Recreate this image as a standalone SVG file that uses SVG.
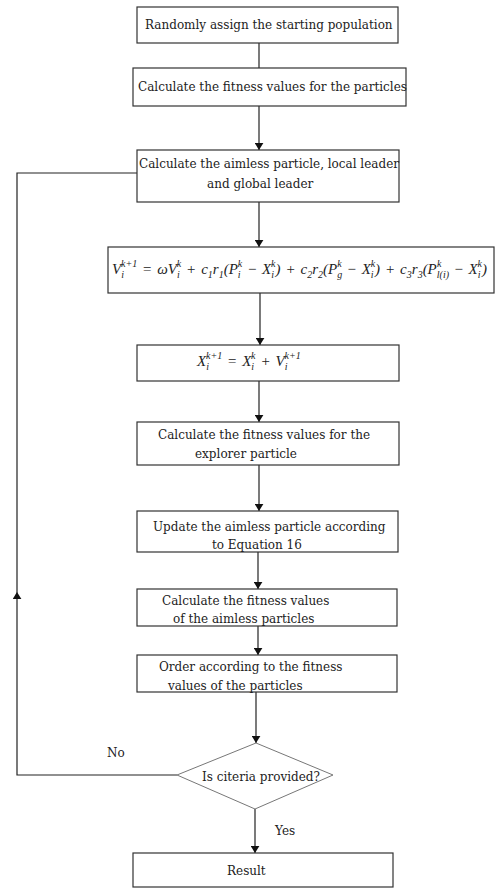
<svg xmlns="http://www.w3.org/2000/svg" width="496" height="888" viewBox="0 0 496 888">
<style>
.box{fill:#fff;stroke:#333;stroke-width:1.2}
.dia{fill:#fff;stroke:#777;stroke-width:1}
.t{font-family:"DejaVu Serif","Liberation Serif",serif;font-size:12px;fill:#222}
.m{font-family:"Liberation Serif","DejaVu Serif",serif;font-style:italic;font-size:15px;fill:#222;word-spacing:1.2px}
.s{font-size:10px}
.ln{fill:none;stroke:#222;stroke-width:1.2}
</style>
<defs>
<marker id="ah" viewBox="0 0 8 10" refX="8" refY="5" markerWidth="7" markerHeight="9" markerUnits="userSpaceOnUse" orient="auto">
<path d="M0,0 L8,5 L0,10 Z" fill="#111"/>
</marker>
</defs>
<rect width="496" height="888" fill="#fff"/>
<g id="connectors">
<path class="ln" d="M259,43 V68"/>
<path class="ln" d="M259,106 V150" marker-end="url(#ah)"/>
<path class="ln" d="M259,202 V247" marker-end="url(#ah)"/>
<path class="ln" d="M260,293 V345" marker-end="url(#ah)"/>
<path class="ln" d="M259,381 V422" marker-end="url(#ah)"/>
<path class="ln" d="M259,465 V511" marker-end="url(#ah)"/>
<path class="ln" d="M258,552 V589" marker-end="url(#ah)"/>
<path class="ln" d="M258,626 V655" marker-end="url(#ah)"/>
<path class="ln" d="M256,692 V743" marker-end="url(#ah)"/>
<path class="ln" d="M255,809 V853" marker-end="url(#ah)"/>
<path class="ln" d="M177,775 H17 V592" marker-end="url(#ah)"/>
<path class="ln" d="M17,592 V173 H137"/>
<text class="t" x="107" y="757">No</text>
<text class="t" x="275" y="835">Yes</text>
</g>
<g id="n1">
<rect class="box" x="137" y="7" width="261" height="36"/>
<text class="t" x="145" y="29">Randomly assign the starting population</text>
</g>
<g id="n2">
<rect class="box" x="133" y="68" width="273" height="38"/>
<text class="t" x="138" y="91">Calculate the fitness values for the particles</text>
</g>
<g id="n3">
<rect class="box" x="137" y="150" width="262" height="52"/>
<text class="t" x="139" y="168">Calculate the aimless particle, local leader</text>
<text class="t" x="207" y="188">and global leader</text>
</g>
<g id="n4">
<rect class="box" x="108" y="247" width="386" height="46"/>
<text class="m" x="112" y="274">V<tspan class="s" dy="4">i</tspan><tspan class="s" dx="-3" dy="-11">k+1</tspan><tspan dy="7"> = ωV</tspan><tspan class="s" dy="4">i</tspan><tspan class="s" dx="-3" dy="-11">k</tspan><tspan dy="7"> + c</tspan><tspan class="s" dy="4">1</tspan><tspan dy="-4">r</tspan><tspan class="s" dy="4">1</tspan><tspan dy="-4">(P</tspan><tspan class="s" dy="4">i</tspan><tspan class="s" dx="-3" dy="-11">k</tspan><tspan dy="7"> − X</tspan><tspan class="s" dy="4">i</tspan><tspan class="s" dx="-3" dy="-11">k</tspan><tspan dy="7">) + c</tspan><tspan class="s" dy="4">2</tspan><tspan dy="-4">r</tspan><tspan class="s" dy="4">2</tspan><tspan dy="-4">(P</tspan><tspan class="s" dy="4">g</tspan><tspan class="s" dx="-5" dy="-11">k</tspan><tspan dy="7"> − X</tspan><tspan class="s" dy="4">i</tspan><tspan class="s" dx="-3" dy="-11">k</tspan><tspan dy="7">) +  c</tspan><tspan class="s" dy="4">3</tspan><tspan dy="-4">r</tspan><tspan class="s" dy="4">3</tspan><tspan dy="-4">(P</tspan><tspan class="s" dy="4">l(i)</tspan><tspan class="s" dx="-12" dy="-11">k</tspan><tspan dx="7" dy="7"> − X</tspan><tspan class="s" dy="4">i</tspan><tspan class="s" dx="-3" dy="-11">k</tspan><tspan dy="7">)</tspan></text>
</g>
<g id="n5">
<rect class="box" x="137" y="345" width="262" height="36"/>
<text class="m" x="197" y="366">X<tspan class="s" dy="4">i</tspan><tspan class="s" dx="-3" dy="-11">k+1</tspan><tspan dy="7"> = X</tspan><tspan class="s" dy="4">i</tspan><tspan class="s" dx="-3" dy="-11">k</tspan><tspan dy="7"> + V</tspan><tspan class="s" dy="4">i</tspan><tspan class="s" dx="-3" dy="-11">k+1</tspan></text>
</g>
<g id="n6">
<rect class="box" x="137" y="422" width="262" height="43"/>
<text class="t" x="158" y="439">Calculate the fitness values for the</text>
<text class="t" x="195" y="458">explorer particle</text>
</g>
<g id="n7">
<rect class="box" x="137" y="511" width="261" height="41"/>
<text class="t" x="153" y="531">Update the aimless particle according</text>
<text class="t" x="212" y="549">to Equation 16</text>
</g>
<g id="n8">
<rect class="box" x="137" y="589" width="260" height="37"/>
<text class="t" x="162" y="605">Calculate the fitness values</text>
<text class="t" x="173" y="623">of the aimless particles</text>
</g>
<g id="n9">
<rect class="box" x="137" y="655" width="260" height="37"/>
<text class="t" x="159" y="671">Order according to the fitness</text>
<text class="t" x="168" y="690">values of the particles</text>
</g>
<g id="n10">
<polygon class="dia" points="256,743 333,775 255,809 177,775"/>
<text class="t" x="202" y="781">Is citeria provided?</text>
</g>
<g id="n11">
<rect class="box" x="133" y="853" width="260" height="34"/>
<text class="t" x="227" y="875">Result</text>
</g>
</svg>
